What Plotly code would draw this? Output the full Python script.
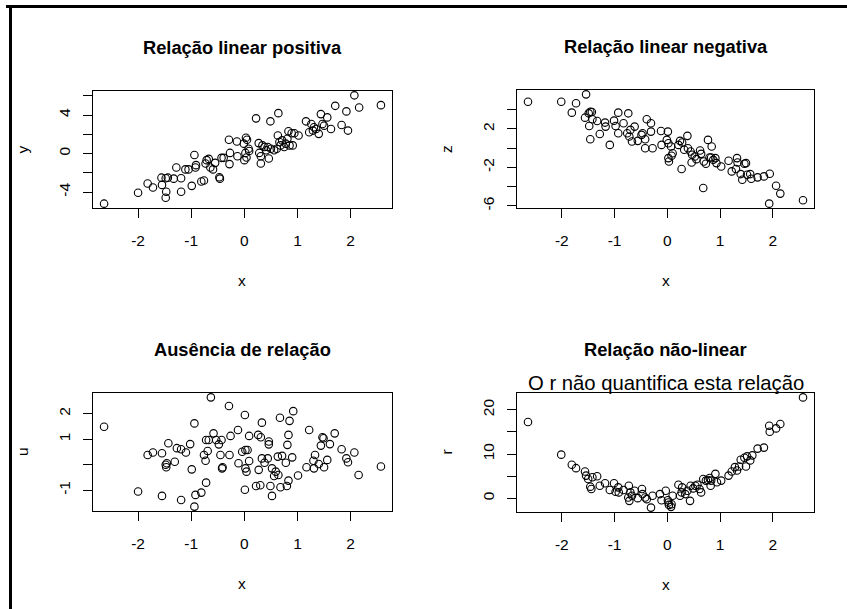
import plotly.graph_objects as go

W, H = 847, 609

# ---- data: four scatter panels sharing the same x sample ----
x1 = [-2.64, -2.0, -1.82, -1.72, -1.56, -1.55, -1.48, -1.44, -1.47, -1.48, -1.33, -1.28, -1.19, -1.19,
      -1.11, -1.05, -0.99, -0.94, -0.92, -0.91, -0.81, -0.76, -0.73, -0.71, -0.67, -0.64, -0.59, -0.55,
      -0.47, -0.46, -0.43, -0.39, -0.29, -0.27, -0.28, -0.14, -0.13, -0.01, 0.0, 0.02, 0.03, 0.05, 0.08,
      0.09, 0.04, 0.22, 0.27, 0.28, 0.31, 0.31, 0.34, 0.38, 0.41, 0.44, 0.46, 0.49, 0.5, 0.56, 0.61, 0.63,
      0.64, 0.66, 0.68, 0.71, 0.75, 0.78, 0.81, 0.83, 0.85, 0.89, 0.91, 0.94, 1.02, 1.16, 1.22, 1.26, 1.29,
      1.31, 1.35, 1.4, 1.44, 1.47, 1.5, 1.56, 1.63, 1.71, 1.83, 1.92, 1.95, 2.07, 2.16, 2.57]
y1 = [-5.2, -4.07, -3.11, -3.52, -2.5, -3.25, -2.56, -2.5, -3.97, -4.58, -2.6, -1.44, -2.56, -3.97,
      -1.64, -1.64, -3.35, -0.14, -1.44, -1.2, -2.9, -2.8, -1.03, -0.68, -0.55, -1.44, -1.64, -0.96,
      -2.46, -2.6, -0.44, -0.44, 1.44, 0.07, -1.09, 1.26, -0.27, 1.03, -0.68, 0.07, 1.64, 1.44, 0.51,
      0.27, -0.41, 3.66, 1.09, 0.07, -0.27, -1.03, 0.85, 0.68, 0.34, 0.68, -0.51, 3.35, 0.51, 0.34, 0.51,
      1.88, 4.2, 1.2, 0.85, 1.37, 0.68, 1.03, 1.54, 2.32, 0.85, 2.12, 0.85, 2.12, 1.88, 3.35, 2.22, 3.08,
      2.39, 2.74, 2.56, 2.05, 4.1, 3.08, 2.9, 3.76, 2.56, 4.96, 2.97, 4.38, 2.39, 6.05, 4.79, 5.03]

x2 = [-2.64, -2.01, -1.81, -1.73, -1.54, -1.56, -1.49, -1.46, -1.43, -1.48, -1.46, -1.42, -1.33, -1.28,
      -1.18, -1.17, -1.09, -1.01, -0.98, -0.93, -0.93, -0.83, -0.74, -0.76, -0.72, -0.7, -0.67, -0.62,
      -0.56, -0.49, -0.47, -0.42, -0.42, -0.39, -0.31, -0.31, -0.28, -0.12, -0.11, -0.01, 0.01, 0.02,
      0.07, 0.02, 0.03, 0.08, 0.1, 0.21, 0.24, 0.28, 0.32, 0.27, 0.38, 0.39, 0.44, 0.47, 0.52, 0.55, 0.46,
      0.62, 0.64, 0.68, 0.69, 0.73, 0.77, 0.8, 0.83, 0.84, 0.87, 0.91, 0.93, 1.02, 1.16, 1.22, 1.3, 1.32,
      1.33, 1.39, 1.42, 1.46, 1.49, 1.51, 1.57, 1.59, 1.71, 1.83, 1.94, 1.93, 2.06, 2.14, 2.57]
z2 = [4.83, 4.83, 3.69, 4.66, 5.59, 3.17, 3.62, 3.79, 3.76, 2.31, 0.93, 3.0, 2.83, 1.48,
      2.66, 2.24, 0.34, 2.86, 2.31, 3.69, 1.55, 2.59, 3.62, 1.55, 1.21, 1.9, 0.69, 2.24,
      0.76, 1.38, 1.55, 0.93, 0.0, 3.0, 2.59, 1.72, 0.0, 1.79, 0.34, 0.86, 1.72, 0.52,
      0.17, -1.03, -1.38, -0.79, -0.52, 0.34, 0.76, 0.59, -0.17, -2.17, 1.28, 0.0, -0.34, -0.69, -0.86, -1.14, -1.48,
      -0.24, -0.59, -4.14, -1.38, -1.62, 0.86, -0.97, -0.97, 0.17, -1.21, -1.03, -1.55, -1.9, -1.31, -2.41, -2.17, -1.03,
      -1.48, -2.69, -3.28, -1.62, -1.55, -2.76, -2.69, -3.17, -3.03, -2.93, -2.66, -5.76, -3.9, -4.72, -5.41]

x3 = [-2.64, -2.0, -1.82, -1.72, -1.55, -1.55, -1.48, -1.47, -1.46, -1.43, -1.31, -1.27, -1.19, -1.19,
      -1.1, -1.02, -0.99, -0.94, -0.94, -0.92, -0.81, -0.76, -0.73, -0.72, -0.69, -0.72, -0.67, -0.63,
      -0.58, -0.53, -0.48, -0.45, -0.43, -0.41, -0.42, -0.29, -0.28, -0.26, -0.12, -0.11, -0.04, 0.01,
      0.02, 0.02, 0.01, 0.04, 0.06, 0.09, 0.09, 0.26, 0.27, 0.22, 0.3, 0.31, 0.33, 0.33, 0.38, 0.44, 0.46,
      0.46, 0.49, 0.52, 0.52, 0.56, 0.59, 0.63, 0.64, 0.67, 0.68, 0.71, 0.78, 0.8, 0.81, 0.83, 0.83, 0.85,
      0.9, 0.92, 1.01, 1.17, 1.22, 1.3, 1.31, 1.33, 1.4, 1.44, 1.47, 1.49, 1.5, 1.56, 1.61, 1.7, 1.83,
      1.92, 1.95, 2.07, 2.15, 2.57]
u3 = [1.49, -1.05, 0.38, 0.48, 0.45, -1.22, 0.0, -0.1, 0.06, 0.84, 0.12, 0.65, 0.61, -1.38,
      0.48, 0.81, -0.18, -1.64, 1.62, -1.18, -1.09, 0.38, 0.16, -0.7, 0.54, 0.97, 0.97, 2.64,
      1.23, 0.97, 0.8, 0.38, 0.97, -0.1, -0.14, 2.3, 0.38, 1.13, 1.36, 0.06, 0.51, 1.95,
      0.58, -0.14, -0.98, -0.27, 0.58, 0.15, 1.13, 1.17, -0.2, -0.83, -0.8, 1.08, 1.65, 0.25, 0.08, 0.25, 0.91,
      0.8, -0.83, -0.14, -1.22, -0.44, -0.27, 0.32, -0.4, 1.84, -0.88, 0.35, 0.08, -0.83, 0.78, -0.62, 1.17, 1.72,
      0.29, 2.1, -0.42, -0.1, 1.36, 0.16, -0.14, 0.38, 0.03, 0.75, 1.08, 1.04, -0.1, 0.19, 0.81, 1.23, 0.61,
      0.25, 0.1, 0.48, -0.4, -0.07]

x4 = [-2.64, -2.01, -1.81, -1.73, -1.56, -1.54, -1.5, -1.46, -1.44, -1.42, -1.33, -1.28, -1.18, -1.09,
      -1.01, -0.98, -0.93, -0.92, -0.83, -0.74, -0.73, -0.72, -0.7, -0.67, -0.62, -0.56, -0.48, -0.47,
      -0.42, -0.39, -0.31, -0.28, -0.14, -0.11, -0.03, 0.01, 0.02, 0.03, 0.07, 0.08, 0.1, 0.21, 0.24,
      0.27, 0.28, 0.34, 0.38, 0.43, 0.44, 0.49, 0.53, 0.57, 0.61, 0.64, 0.68, 0.73, 0.77, 0.8, 0.82, 0.83,
      0.91, 0.94, 1.02, 1.16, 1.22, 1.28, 1.32, 1.36, 1.39, 1.46, 1.49, 1.51, 1.57, 1.61, 1.71, 1.83,
      1.93, 1.94, 2.06, 2.14, 2.57]
r4 = [17.25, 9.85, 7.56, 6.79, 6.03, 5.11, 4.35, 2.6, 2.06, 4.73, 4.96, 2.82, 3.36, 1.83,
      3.36, 1.45, 2.44, 1.3, 1.83, 0.15, 2.82, -0.61, 1.3, 0.53, 1.68, 0.0, 2.06, 0.92,
      0.15, -0.23, -2.14, 0.53, 0.92, -0.46, 1.68, -0.46, -0.99, -1.53, -1.98, -1.37, 0.53, 3.05, 0.53,
      1.3, 2.44, 0.92, 1.68, -0.61, 2.82, 2.21, 2.82, 3.05, 2.06, 1.3, 4.35, 3.97, 4.12, 4.58, 2.82, 3.97,
      5.5, 3.59, 3.97, 5.11, 6.03, 7.02, 6.26, 7.18, 8.7, 9.16, 7.18, 9.47, 8.55, 9.69, 11.22, 11.45,
      16.4, 15.04, 15.8, 16.8, 22.82]

x_ticks = [-2, -1, 0, 1, 2]

panels = [
    dict(x=x1, y=y1, title="Relação linear positiva", ylab="y",
         yticks=[-4, -2, 0, 2, 4, 6], ytext=["-4", "", "0", "", "4", ""]),
    dict(x=x2, y=z2, title="Relação linear negativa", ylab="z",
         yticks=[-6, -4, -2, 0, 2, 4], ytext=["-6", "", "-2", "", "2", ""]),
    dict(x=x3, y=u3, title="Ausência de relação", ylab="u",
         yticks=[-1, 0, 1, 2], ytext=["-1", "", "1", "2"]),
    dict(x=x4, y=r4, title="Relação não-linear", ylab="r",
         yticks=[0, 5, 10, 15, 20], ytext=["0", "", "10", "", "20"]),
]

# plot-region boxes in pixels: (left, right, top, bottom)
boxes = [(93, 392, 91, 208), (517, 814, 90, 208),
         (93, 392, 393, 511), (517, 814, 393, 512)]

FONT = "Liberation Sans, Arial, Helvetica, sans-serif"
TICK_SIZE = 15.5


def pad_range(v):
    lo, hi = min(v), max(v)
    d = (hi - lo) * 0.04
    return [lo - d, hi + d]


def px(xp):
    return xp / W


def py(yp):
    return 1 - yp / H


fig = go.Figure()
annotations = []

for i, (p, b) in enumerate(zip(panels, boxes), start=1):
    left, right, top, bottom = b
    xa = "x" if i == 1 else f"x{i}"
    ya = "y" if i == 1 else f"y{i}"
    fig.add_trace(go.Scatter(
        x=p["x"], y=p["y"], mode="markers", xaxis=xa, yaxis=ya,
        marker=dict(symbol="circle-open", size=7.5, color="black",
                    line=dict(color="black", width=1.1)),
        showlegend=False, hoverinfo="x+y",
    ))
    common = dict(showline=True, mirror=True, linecolor="black", linewidth=1,
                  ticks="outside", ticklen=9, tickwidth=1, tickcolor="black",
                  showgrid=False, zeroline=False, automargin=False,
                  tickfont=dict(family=FONT, size=TICK_SIZE, color="black"))
    fig.layout[f"xaxis{'' if i == 1 else i}"] = dict(
        domain=[px(left), px(right)], anchor=ya, range=pad_range(p["x"]),
        tickvals=x_ticks, ticktext=[str(t) for t in x_ticks],
        ticklabelstandoff=9, **common)
    fig.layout[f"yaxis{'' if i == 1 else i}"] = dict(
        domain=[py(bottom), py(top)], anchor=xa, range=pad_range(p["y"]),
        tickvals=p["yticks"], ticktext=p["ytext"], tickangle=-90,
        ticklabelstandoff=7, **common)

    cx = (left + right) / 2
    # panel title
    annotations.append(dict(text=f"<b>{p['title']}</b>", x=px(cx), y=py(top - 44),
                            xref="paper", yref="paper", showarrow=False,
                            xanchor="center", yanchor="middle",
                            font=dict(family=FONT, size=18.3, color="black")))
    # x-axis label
    annotations.append(dict(text="x", x=px(cx), y=py(bottom + 72),
                            xref="paper", yref="paper", showarrow=False,
                            xanchor="center", yanchor="middle",
                            font=dict(family=FONT, size=TICK_SIZE, color="black")))
    # y-axis label
    annotations.append(dict(text=p["ylab"], x=px(left - 71), y=py((top + bottom) / 2),
                            xref="paper", yref="paper", showarrow=False, textangle=-90,
                            xanchor="center", yanchor="middle",
                            font=dict(family=FONT, size=TICK_SIZE, color="black")))

# subtitle of the non-linear panel
annotations.append(dict(text="O r não quantifica esta relação", x=px((517 + 814) / 2), y=py(383),
                        xref="paper", yref="paper", showarrow=False,
                        xanchor="center", yanchor="middle",
                        font=dict(family=FONT, size=20.3, color="black")))

# heading above the frame (runs off the top of the page)
annotations.append(dict(text="<b>Figura 12 – Correlação</b>", x=px(207), y=py(1.0),
                        xref="paper", yref="paper", showarrow=False,
                        xanchor="left", yanchor="bottom", borderpad=0,
                        font=dict(family=FONT, size=16, color="black")))

# outer frame: top and left edges
shapes = [
    dict(type="line", xref="paper", yref="paper", x0=px(6), x1=1.0, y0=py(6.5), y1=py(6.5),
         line=dict(color="black", width=3)),
    dict(type="line", xref="paper", yref="paper", x0=px(10.5), x1=px(10.5), y0=py(5), y1=0.0,
         line=dict(color="black", width=3)),
]

fig.update_layout(
    width=W, height=H,
    margin=dict(l=0, r=0, t=0, b=0),
    paper_bgcolor="white", plot_bgcolor="white",
    annotations=annotations, shapes=shapes,
    font=dict(family=FONT, color="black"),
)

fig.write_html("out.html")
